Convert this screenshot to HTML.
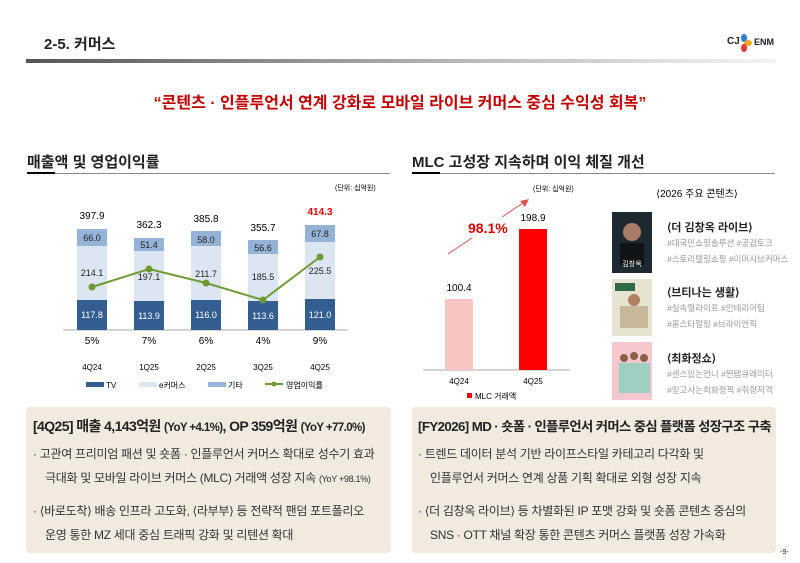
<!DOCTYPE html><html><head><meta charset="utf-8"><style>
*{margin:0;padding:0;box-sizing:border-box}
body{width:800px;height:563px;background:#fff;font-family:"Liberation Sans","Noto Sans CJK KR",sans-serif;position:relative;overflow:hidden;color:#222}
.a{position:absolute;white-space:nowrap}
.box{position:absolute;background:#f1eadf;border-radius:4px}
.h{font-size:13.3px;font-weight:bold;letter-spacing:-0.6px}
.b{font-size:12px;color:#333;letter-spacing:-0.3px}
.tag{font-size:8.5px;color:#999}
.tt{font-size:11px;font-weight:bold}
</style></head><body>
<div class="a" style="left:44px;top:33px;font-size:15px;font-weight:bold">2-5. 커머스</div>
<div class="a" style="left:727px;top:36px;font-size:10px;font-weight:bold">CJ</div>
<svg class="a" style="left:739px;top:33px" width="14" height="20"><ellipse cx="5" cy="5" rx="3" ry="4" fill="#2a7fd4"/><ellipse cx="9" cy="10" rx="4" ry="3" fill="#f5a623"/><ellipse cx="5" cy="15" rx="3" ry="4" fill="#e83a3a"/></svg>
<div class="a" style="left:754px;top:37px;font-size:9px;font-weight:bold">ENM</div>
<div class="a" style="left:26px;top:59px;width:750px;height:4px;background:linear-gradient(90deg,#555,#bbb 60%,#f4f4f4)"></div>
<div class="a" style="left:0;width:800px;text-align:center;top:89px;font-size:16px;font-weight:bold;color:#c00000">“콘텐츠 · 인플루언서 연계 강화로 모바일 라이브 커머스 중심 수익성 회복”</div>

<div class="a" style="left:27px;top:151px;font-size:15px;font-weight:bold">매출액 및 영업이익률</div>
<div class="a" style="left:27px;top:173px;width:363px;height:1px;background:#888"></div>
<div class="a" style="left:27px;top:172px;width:28px;height:2px;background:#000"></div>
<div class="a" style="left:412px;top:151px;font-size:15px;font-weight:bold">MLC 고성장 지속하며 이익 체질 개선</div>
<div class="a" style="left:412px;top:173px;width:363px;height:1px;background:#888"></div>
<div class="a" style="left:412px;top:172px;width:28px;height:2px;background:#000"></div>

<svg class="a" style="left:0;top:0" width="800" height="410" font-family="Liberation Sans,Noto Sans CJK KR,sans-serif">
<text x="335" y="190" font-size="7">(단위:  십억원)</text>
<line x1="63" y1="330" x2="348" y2="330" stroke="#aaa"/>
<g font-size="9" text-anchor="middle" font-weight="bold">
<rect x="77" y="300" width="30" height="30" fill="#345d91"/><rect x="77" y="246" width="30" height="54" fill="#dce6f2"/><rect x="77" y="229" width="30" height="17" fill="#95b3d7"/>
<rect x="134" y="301" width="30" height="29" fill="#345d91"/><rect x="134" y="251" width="30" height="50" fill="#dce6f2"/><rect x="134" y="238" width="30" height="13" fill="#95b3d7"/>
<rect x="191" y="300" width="30" height="30" fill="#345d91"/><rect x="191" y="246" width="30" height="54" fill="#dce6f2"/><rect x="191" y="231" width="30" height="15" fill="#95b3d7"/>
<rect x="248" y="301" width="30" height="29" fill="#345d91"/><rect x="248" y="254" width="30" height="47" fill="#dce6f2"/><rect x="248" y="240" width="30" height="14" fill="#95b3d7"/>
<rect x="305" y="299" width="30" height="31" fill="#345d91"/><rect x="305" y="242" width="30" height="57" fill="#dce6f2"/><rect x="305" y="225" width="30" height="17" fill="#95b3d7"/>
<g fill="#fff" font-weight="normal"><text x="92" y="318">117.8</text><text x="149" y="319">113.9</text><text x="206" y="318">116.0</text><text x="263" y="319">113.6</text><text x="320" y="318">121.0</text></g>
<g fill="#222" font-weight="normal"><text x="92" y="276">214.1</text><text x="149" y="280">197.1</text><text x="206" y="277">211.7</text><text x="263" y="280">185.5</text><text x="320" y="274">225.5</text>
<text x="92" y="241">66.0</text><text x="149" y="248">51.4</text><text x="206" y="243">58.0</text><text x="263" y="251">56.6</text><text x="320" y="237">67.8</text></g>
<g font-size="10" font-weight="normal"><text x="92" y="219">397.9</text><text x="149" y="228">362.3</text><text x="206" y="222">385.8</text><text x="263" y="231">355.7</text><text x="320" y="215" fill="#e00" font-weight="bold">414.3</text>
<text x="92" y="344">5%</text><text x="149" y="344">7%</text><text x="206" y="344">6%</text><text x="263" y="344">4%</text><text x="320" y="344">9%</text></g>
<g font-size="8" font-weight="normal"><text x="92" y="370">4Q24</text><text x="149" y="370">1Q25</text><text x="206" y="370">2Q25</text><text x="263" y="370">3Q25</text><text x="320" y="370">4Q25</text></g>
</g>
<polyline points="92,287 149,269 206,283 263,300 320,257" fill="none" stroke="#6e9a35" stroke-width="2"/>
<g fill="#6e9a35"><circle cx="92" cy="287" r="3.5"/><circle cx="149" cy="269" r="3.5"/><circle cx="206" cy="283" r="3.5"/><circle cx="263" cy="300" r="3.5"/><circle cx="320" cy="257" r="3.5"/></g>
<g font-size="8"><rect x="86" y="382" width="18" height="5" fill="#345d91"/><text x="106" y="388">TV</text>
<rect x="139" y="382" width="18" height="5" fill="#dce6f2"/><text x="159" y="388">e커머스</text>
<rect x="208" y="382" width="18" height="5" fill="#95b3d7"/><text x="228" y="388">기타</text>
<line x1="265" y1="384" x2="283" y2="384" stroke="#6e9a35" stroke-width="2"/><circle cx="274" cy="384" r="2.5" fill="#6e9a35"/><text x="286" y="388">영업이익률</text></g>

<text x="533" y="191" font-size="7">(단위:  십억원)</text>
<line x1="423" y1="370" x2="570" y2="370" stroke="#aaa"/>
<rect x="445" y="299" width="28" height="71" fill="#f8c5c5"/>
<rect x="519" y="229" width="28" height="141" fill="#ff0000"/>
<g font-size="10" text-anchor="middle"><text x="459" y="291">100.4</text><text x="533" y="221">198.9</text></g>
<g font-size="8" text-anchor="middle"><text x="459" y="384">4Q24</text><text x="533" y="384">4Q25</text></g>
<text x="468" y="233" font-size="14" font-weight="bold" fill="#d00">98.1%</text>
<line x1="448" y1="254" x2="472" y2="238" stroke="#e05555"/><line x1="502" y1="217" x2="526" y2="201" stroke="#e05555"/>
<polygon points="529,199 520,201 525,207" fill="#e05555"/>
<rect x="467" y="393" width="5" height="5" fill="#f00"/><text x="475" y="399" font-size="8">MLC 거래액</text>
<text x="697" y="197" font-size="10" text-anchor="middle">⟨2026 주요 콘텐츠⟩</text>
<rect x="612" y="212" width="40" height="61" fill="#1c2a30"/><circle cx="632" cy="232" r="9" fill="#a87c68"/><rect x="620" y="243" width="24" height="22" fill="#0e1418"/><text x="632" y="266" font-size="7" fill="#fff" text-anchor="middle">김창옥</text>
<rect x="612" y="279" width="40" height="57" fill="#e6e3d0"/><circle cx="634" cy="300" r="6" fill="#b08060"/><rect x="620" y="306" width="28" height="22" fill="#c8b89a"/><rect x="615" y="283" width="20" height="8" fill="#2f6b4a"/>
<rect x="612" y="342" width="40" height="58" fill="#f5c8d0"/><circle cx="624" cy="358" r="4" fill="#8a6048"/><circle cx="634" cy="356" r="4" fill="#8a6048"/><circle cx="644" cy="358" r="4" fill="#8a6048"/><rect x="619" y="363" width="31" height="30" fill="#9ccfc0"/>
</svg>
<div class="a tt" style="left:667px;top:219px">⟨더 김창옥 라이브⟩</div>
<div class="a tag" style="left:667px;top:237px">#대국민쇼핑솔루션 #공감토크</div>
<div class="a tag" style="left:667px;top:253px">#스토리텔링쇼핑 #이머시브커머스</div>
<div class="a tt" style="left:667px;top:284px">⟨브티나는 생활⟩</div>
<div class="a tag" style="left:667px;top:302px">#실속형라이프 #인테리어팁</div>
<div class="a tag" style="left:667px;top:318px">#홈스타일링 #브라이언픽</div>
<div class="a tt" style="left:667px;top:350px">⟨최화정쇼⟩</div>
<div class="a tag" style="left:667px;top:368px">#센스있는언니 #찐템큐레이터</div>
<div class="a tag" style="left:667px;top:384px">#믿고사는최화정픽 #취향저격</div>

<div class="box" style="left:26px;top:407px;width:365px;height:146px"></div>
<div class="box" style="left:412px;top:407px;width:364px;height:146px"></div>
<div class="a h" style="left:33px;top:416px;font-size:14px">[4Q25]  매출 4,143억원 <span style="font-size:11.5px">(YoY +4.1%)</span>, OP 359억원 <span style="font-size:11.5px">(YoY +77.0%)</span></div>
<div class="a b" style="left:33px;top:445px">·  고관여 프리미엄 패션 및 숏폼 · 인플루언서 커머스 확대로 성수기 효과</div>
<div class="a b" style="left:45px;top:469px">극대화 및 모바일 라이브 커머스 (MLC) 거래액 성장 지속 <span style="font-size:9px">(YoY +98.1%)</span></div>
<div class="a b" style="left:33px;top:502px">·  ⟨바로도착⟩ 배송 인프라 고도화, ⟨라부부⟩ 등 전략적 팬덤 포트폴리오</div>
<div class="a b" style="left:45px;top:526px">운영 통한 MZ 세대 중심 트래픽 강화 및 리텐션 확대</div>
<div class="a h" style="left:418px;top:416px">[FY2026]  MD · 숏폼 · 인플루언서 커머스 중심 플랫폼 성장구조 구축</div>
<div class="a b" style="left:418px;top:445px">·  트렌드 데이터 분석 기반 라이프스타일 카테고리 다각화 및</div>
<div class="a b" style="left:430px;top:469px">인플루언서 커머스 연계 상품 기획 확대로 외형 성장 지속</div>
<div class="a b" style="left:418px;top:502px">·  ⟨더 김창옥 라이브⟩ 등 차별화된 IP 포맷 강화 및 숏폼 콘텐츠 중심의</div>
<div class="a b" style="left:430px;top:526px">SNS · OTT 채널 확장 통한 콘텐츠 커머스 플랫폼 성장 가속화</div>
<div class="a" style="left:780px;top:549px;font-size:7px">-9-</div>
</body></html>
